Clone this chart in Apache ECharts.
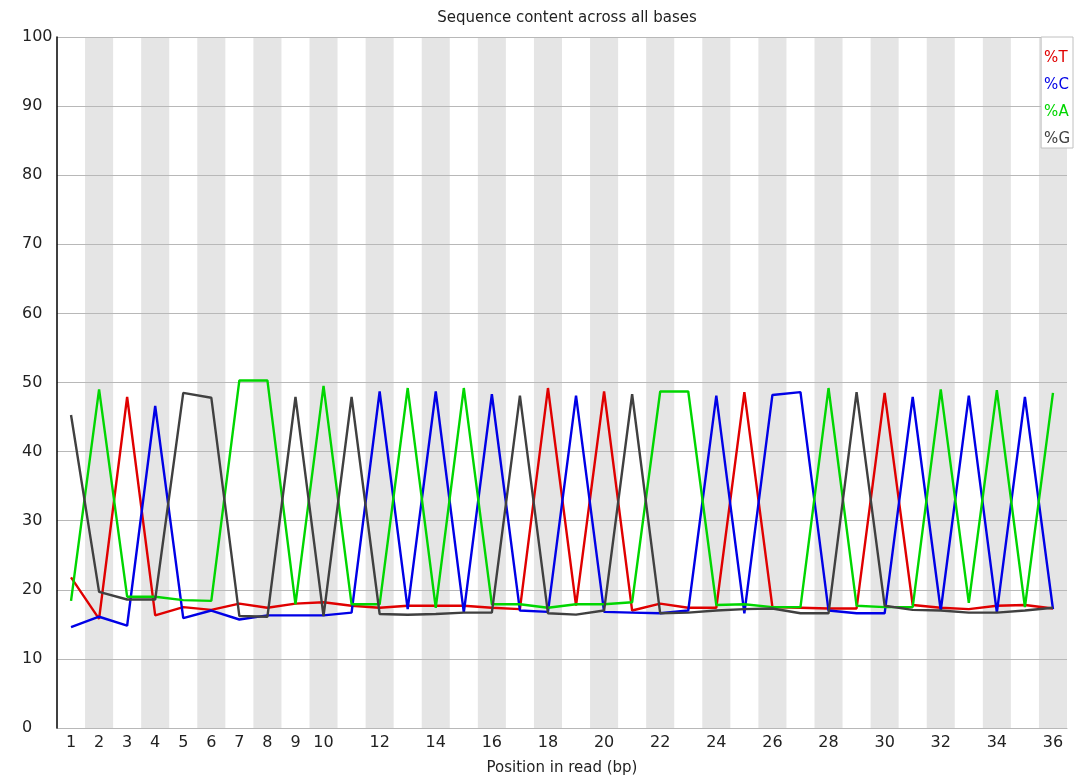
<!DOCTYPE html>
<html>
<head>
<meta charset="utf-8">
<script src="https://cdn.jsdelivr.net/npm/echarts@6/dist/echarts.min.js"></script>
<style>
  html, body { margin: 0; padding: 0; background: #fff; }
  #chart { width: 1091px; height: 781px; }
</style>
</head>
<body>
<div id="chart"></div>
<script>
// positions in read
var positions = [];
for (var i = 1; i <= 36; i++) positions.push(String(i));

// %T
var seqT = [21.8, 15.8, 47.9, 16.3, 17.5, 17.1, 18.0, 17.4, 18.0, 18.2, 17.7, 17.4,
            17.7, 17.7, 17.7, 17.4, 17.2, 49.2, 17.7, 48.7, 17.0, 18.0, 17.4, 17.4,
            48.6, 17.5, 17.4, 17.3, 17.3, 48.5, 17.8, 17.4, 17.2, 17.7, 17.8, 17.3];
// %C
var seqC = [14.6, 16.1, 14.8, 46.6, 15.9, 17.0, 15.7, 16.3, 16.3, 16.3, 16.7, 48.7,
            17.2, 48.7, 16.7, 48.3, 17.0, 16.8, 48.1, 16.8, 16.7, 16.6, 17.0, 48.1,
            16.6, 48.2, 48.6, 17.0, 16.6, 16.6, 47.9, 17.0, 48.1, 16.7, 47.9, 17.2];
// %A
var seqA = [18.4, 49.0, 19.0, 19.0, 18.5, 18.4, 50.3, 50.3, 17.9, 49.5, 17.9, 17.9,
            49.2, 17.4, 49.2, 17.9, 17.9, 17.4, 17.9, 17.9, 18.2, 48.7, 48.7, 17.8,
            17.9, 17.5, 17.5, 49.2, 17.7, 17.5, 17.5, 49.0, 18.1, 48.9, 17.5, 48.5];
// %G
var seqG = [45.3, 19.7, 18.6, 18.6, 48.5, 47.8, 16.2, 16.1, 47.9, 16.2, 47.9, 16.5,
            16.4, 16.5, 16.7, 16.7, 48.1, 16.6, 16.4, 17.0, 48.3, 16.6, 16.7, 17.0,
            17.2, 17.3, 16.6, 16.6, 48.6, 17.7, 17.1, 17.0, 16.7, 16.7, 17.0, 17.4];

var seriesNames = ['%T', '%C', '%A', '%G'];
var seriesColors = ['#e00000', '#0000e6', '#00d600', '#404040'];
var seriesData = [seqT, seqC, seqA, seqG];

var font = 'DejaVu Sans, sans-serif';
var myChart = echarts.init(document.getElementById('chart'));

myChart.setOption({
  animation: false,
  backgroundColor: '#ffffff',
  title: {
    text: 'Sequence content across all bases',
    left: 562,
    textAlign: 'center',
    top: 6,
    textStyle: { fontFamily: font, fontSize: 15, fontWeight: 'normal', color: '#222' }
  },
  grid: { left: 57, right: 24, top: 37, bottom: 51, containLabel: false },
  legend: {
    orient: 'vertical',
    right: 18,
    top: 37,
    itemWidth: 0,
    itemHeight: 0,
    itemGap: 12,
    padding: [14, 3, 1, 3],
    backgroundColor: '#ffffff',
    borderColor: '#c0c0c0',
    borderWidth: 1,
    borderRadius: 0,
    selectedMode: false,
    z: 10,
    data: seriesNames.map(function(n, i) {
      return { name: n, icon: 'rect', textStyle: { color: seriesColors[i] } };
    }),
    textStyle: { fontFamily: font, fontSize: 15, padding: [0, 0, 0, -5] }
  },
  xAxis: {
    type: 'category',
    data: positions,
    boundaryGap: true,
    z: 0,
    name: 'Position in read (bp)',
    nameLocation: 'middle',
    nameGap: 33,
    nameTextStyle: { fontFamily: font, fontSize: 15, color: '#222' },
    axisLine: { show: true, lineStyle: { color: '#b4b4b4', width: 1 } },
    axisTick: { show: false },
    axisLabel: {
      fontFamily: font, fontSize: 16, color: '#222', margin: 7,
      interval: function(idx) { return idx < 10 || idx % 2 === 1; }
    },
    splitLine: { show: false },
    splitArea: { show: true, interval: 0, areaStyle: { color: ['rgba(255,255,255,0)', '#e5e5e5'] } }
  },
  yAxis: {
    type: 'value',
    min: 0,
    max: 100,
    interval: 10,
    z: 2,
    axisLine: { show: true, lineStyle: { color: '#000000', width: 1.5 } },
    axisTick: { show: false },
    axisLabel: { fontFamily: font, fontSize: 16, color: '#222', align: 'left', margin: 35 },
    splitLine: { show: true, lineStyle: { color: '#b8b8b8', width: 1 } }
  },
  series: seriesNames.map(function(n, i) {
    return {
      name: n,
      type: 'line',
      data: seriesData[i],
      showSymbol: false,
      symbol: 'none',
      lineStyle: { color: seriesColors[i], width: 2.4 },
      itemStyle: { color: seriesColors[i] },
      z: 3
    };
  })
});
</script>
</body>
</html>
